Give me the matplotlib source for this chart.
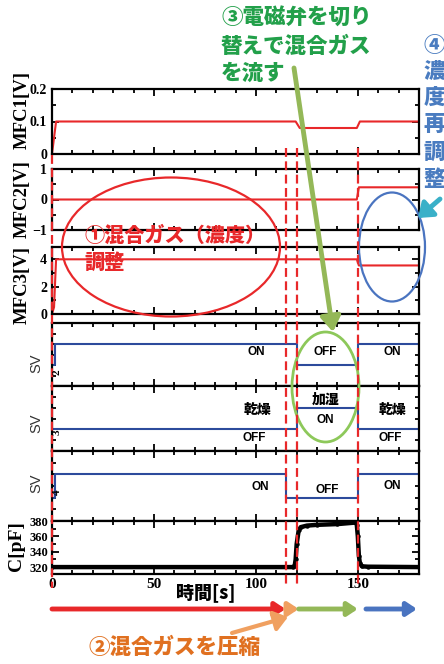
import matplotlib.pyplot as plt
from matplotlib.patches import Ellipse, FancyArrowPatch
from matplotlib.ticker import MultipleLocator, NullFormatter
from matplotlib.transforms import blended_transform_factory

plt.rcParams['font.family'] = ['Liberation Serif', 'Noto Sans CJK JP']
JP = ['Noto Sans CJK JP', 'DejaVu Sans']
SANS = ['Liberation Sans', 'Noto Sans CJK JP']

# ---- data ----
t_mfc1 = [0, 1, 2, 119.5, 121.5, 149.5, 151, 180]
mfc1 = [0, 0.05, 0.1, 0.1, 0.08, 0.08, 0.1, 0.1]

t_mfc2 = [1, 149.5, 150.5, 180]
mfc2 = [0, 0, 0.4, 0.4]

t_mfc3 = [0, 1, 2, 149.5, 150.5, 180]
mfc3 = [0, 0.5, 4, 4, 3.55, 3.55]

t_sv1 = [0, 1.5, 1.5, 120, 120, 150, 150, 180]
sv1 = [0, 0, 1, 1, 0, 0, 1, 1]
t_sv2 = [0, 120, 120, 150, 150, 180]
sv2 = [0, 0, 1, 1, 0, 0]
t_sv3 = [0, 1.5, 1.5, 115, 115, 150, 150, 180]
sv3 = [0, 0, 1, 1, 0, 0, 1, 1]

t_c = [0, 118, 119, 119.5, 120, 121, 122, 125, 130, 140, 149, 149.5,
       150, 150.5, 151, 152, 155, 180]
cap = [320, 320, 321, 330, 350, 368, 372, 374, 375, 376, 378, 375,
       360, 335, 325, 321, 320.5, 320]

mark_times = [0, 115, 120, 150]

RED = '#e8282a'
BLUE = '#2c4b9c'

W, H = 444, 664
fig = plt.figure(figsize=(W / 100, H / 100), dpi=100)

X0, X1 = 52, 419


def panel(top, bot):
    ax = fig.add_axes([X0 / W, 1 - bot / H, (X1 - X0) / W, (bot - top) / H])
    ax.set_xlim(0, 180)
    ax.xaxis.set_major_locator(MultipleLocator(50))
    ax.xaxis.set_minor_locator(MultipleLocator(10))
    ax.tick_params(which='both', direction='in', top=True, right=True,
                   width=1.3, labelbottom=False)
    ax.tick_params(which='major', length=5)
    ax.tick_params(which='minor', length=3)
    for s in ax.spines.values():
        s.set_linewidth(1.6)
    return ax


def ylab_bold(ax, size=9):
    for lab in ax.get_yticklabels():
        lab.set_fontweight('bold')
        lab.set_fontsize(size)


# MFC1
ax1 = panel(89, 154)
ax1.plot(t_mfc1, mfc1, color=RED, lw=1.5)
ax1.set_ylim(0, 0.2)
ax1.set_yticks([0, 0.1, 0.2])
ax1.set_yticklabels(['0', '0.1', '0.2'])
ax1.yaxis.set_minor_locator(MultipleLocator(0.05))
ylab_bold(ax1, 10)

# MFC2
ax2 = panel(169, 230)
ax2.plot(t_mfc2, mfc2, color=RED, lw=1.5)
ax2.set_ylim(-1, 1)
ax2.set_yticks([-1, 0, 1])
ax2.set_yticklabels(['\u22121', '0', '1'])
ax2.yaxis.set_minor_locator(MultipleLocator(0.5))
ylab_bold(ax2, 10)

# MFC3
ax3 = panel(247, 314)
ax3.plot(t_mfc3, mfc3, color=RED, lw=1.5)
ax3.set_ylim(0, 4.9)
ax3.set_yticks([0, 2, 4])
ax3.yaxis.set_minor_locator(MultipleLocator(1))
ylab_bold(ax3, 10)

# SV panels
sv_axes = []
for (top, bot), tt, vv in zip([(323, 386), (386, 451), (451, 521)],
                              [t_sv1, t_sv2, t_sv3], [sv1, sv2, sv3]):
    ax = panel(top, bot)
    ax.plot(tt, vv, color=BLUE, lw=1.5)
    ax.set_ylim(-1, 2)
    ax.yaxis.set_major_locator(MultipleLocator(0.5))
    ax.yaxis.set_major_formatter(NullFormatter())
    ax.tick_params(which='major', axis='y', length=3)
    sv_axes.append(ax)

# capacitance
axc = panel(521, 574)
axc.plot(t_c, cap, color='black', lw=3.2, marker='o', ms=2.2)
axc.set_ylim(311, 380)
axc.set_yticks([320, 340, 360, 380])
axc.yaxis.set_minor_locator(MultipleLocator(10))
ylab_bold(axc, 9)
axc.tick_params(labelbottom=True, pad=3)
for lab in axc.get_xticklabels():
    lab.set_fontweight('bold')
    lab.set_fontsize(11)

# state labels on SV panels
kw = dict(fontsize=8.5, fontweight='bold', family=SANS, ha='center', va='center')
kj = dict(fontsize=10, fontweight='heavy', family=JP, ha='center', va='center')
a, b, c = sv_axes
a.text(100, 0.62, 'ON', **kw)
a.text(134, 0.62, 'OFF', **kw)
a.text(167, 0.62, 'ON', **kw)
b.text(101, 0.9, '乾燥', **kj)
b.text(134, 1.35, '加湿', **kj)
b.text(134, 0.43, 'ON', **kw)
b.text(99, -0.4, 'OFF', **kw)
b.text(167, 0.9, '乾燥', **kj)
b.text(166, -0.4, 'OFF', **kw)
c.text(102, 0.45, 'ON', **kw)
c.text(135, 0.33, 'OFF', **kw)
c.text(167, 0.5, 'ON', **kw)

# ---- overlay in pixel coordinates ----
ov = fig.add_axes([0, 0, 1, 1], zorder=10)
ov.set_xlim(0, W)
ov.set_ylim(H, 0)
ov.axis('off')
ov.patch.set_alpha(0)

# y labels
lab = dict(rotation=90, fontweight='bold', ha='center', va='center')
ov.text(22, 110, 'MFC1[V]', fontsize=13.5, **lab)
ov.text(22, 199, 'MFC2[V]', fontsize=13.5, **lab)
ov.text(22, 285, 'MFC3[V]', fontsize=13.5, **lab)
ov.text(16, 546, 'C[pF]', fontsize=14, **lab)
for y, n in zip([363, 423, 483], ['2', '3', '4']):
    ov.text(36, y, 'SV', fontsize=10.5, rotation=90, family=SANS,
            color='#333333', ha='center', va='center')
    ov.text(57, y + 9, n, fontsize=8, rotation=90, fontweight='bold',
            ha='center', va='center')
ov.text(206, 593, '時間[s]', fontsize=13, fontweight='heavy', family=JP,
        ha='center', va='center')

# vertical dashed markers (x from the time scale)
trans = blended_transform_factory(axc.transData, ov.transData)
for tm in mark_times:
    y_top = 155 if tm == 0 else 148
    ov.plot([tm, tm], [y_top, 588], transform=trans, color=RED, lw=1.6,
            ls=(0, (4, 2)), clip_on=False)

# phase arrows at the bottom
phase = [(0, 114.5, RED), (114.5, 121, '#f0a060'),
         (121, 150, '#94b858'), (154, 179, '#4a74c0')]
for x0, x1, col in phase:
    ov.add_patch(FancyArrowPatch((x0, 609), (x1, 609), transform=trans,
                                 arrowstyle='-|>,head_length=6,head_width=4',
                                 color=col, lw=3.5, mutation_scale=1,
                                 shrinkA=0, shrinkB=0))

# ellipses
ov.add_patch(Ellipse((171, 247), 218, 139, fill=False, ec=RED, lw=1.6))
ov.add_patch(Ellipse((392, 247), 66, 109, fill=False, ec='#4a74c0', lw=1.6))
ov.add_patch(Ellipse((325.5, 387), 67, 110, fill=False, ec='#8dc85a', lw=2))

# annotation arrows
ov.add_patch(FancyArrowPatch((294, 68), (333, 332),
                             arrowstyle='-|>,head_length=9,head_width=6',
                             color='#94b858', lw=3.5, mutation_scale=1,
                             shrinkA=0, shrinkB=0))
ov.add_patch(FancyArrowPatch((440, 199), (418, 218),
                             arrowstyle='-|>,head_length=8,head_width=6',
                             color='#3ab0c8', lw=3.5, mutation_scale=1,
                             shrinkA=0, shrinkB=0))
ov.add_patch(FancyArrowPatch((232, 633), (288, 617),
                             arrowstyle='-|>,head_length=8,head_width=6',
                             color='#f0a060', lw=3, mutation_scale=1,
                             shrinkA=0, shrinkB=0))

# annotation text
tj = dict(fontweight='black', family=JP, ha='left', va='center')
ov.text(221, 18, '③電磁弁を切り', fontsize=15.5, color='#22a04a', **tj)
ov.text(221, 46, '替えで混合ガス', fontsize=15.5, color='#22a04a', **tj)
ov.text(221, 73, 'を流す', fontsize=15.5, color='#22a04a', **tj)

ov.text(84, 236, '①混合ガス（濃度）', fontsize=14.5, color=RED, **tj)
ov.text(84, 263, '調整', fontsize=14.5, color=RED, **tj)

ov.text(88, 647, '②混合ガスを圧縮', fontsize=15.5, color='#e07020', **tj)

for y, ch in zip([45, 71, 97, 124, 152, 180], '④濃度再調整'):
    ov.text(434, y, ch, fontsize=15.5, color='#4a7cc0', fontweight='black',
            family=JP, ha='center', va='center')

fig.savefig('out.png', dpi=100)
